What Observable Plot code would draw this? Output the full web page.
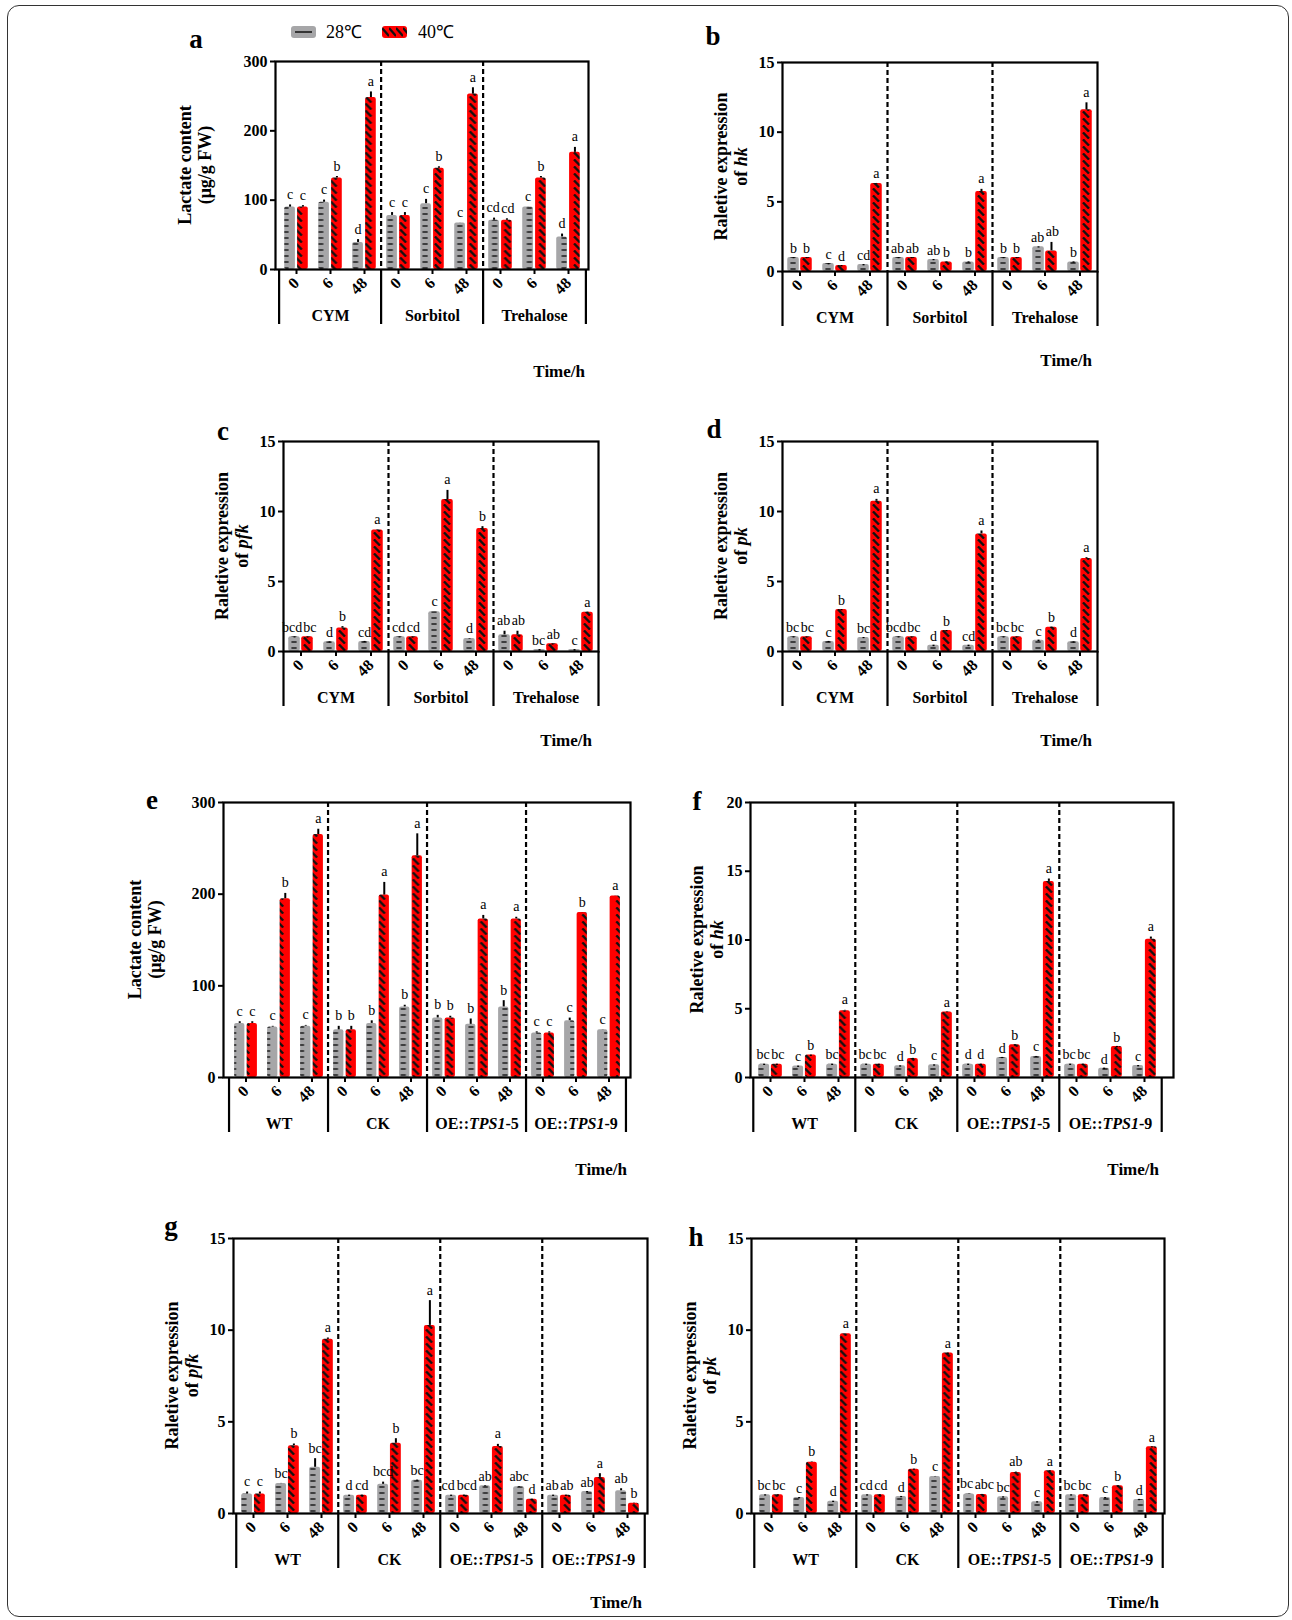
<!DOCTYPE html>
<html>
<head>
<meta charset="utf-8">
<script src="https://cdn.jsdelivr.net/npm/d3@7"></script>
<script src="https://cdn.jsdelivr.net/npm/@observablehq/plot@0.6"></script>
<style>
  body { margin: 0; background: #fff; }
  #page { position: relative; width: 1292px; height: 1620px; background: #fff; overflow: hidden;
          font-family: "Liberation Serif", "Times New Roman", serif; }
  #border { position: absolute; left: 7px; top: 5px; width: 1282px; height: 1612px;
            border: 1.3px solid #333; border-radius: 12px; box-sizing: border-box; }
</style>
</head>
<body>
<div id="page"><div id="border"></div></div>
<script>
// ---------------- DATA ----------------
const timePoints = ["0", "6", "48"];
const mediaGroups = ["CYM", "Sorbitol", "Trehalose"];
const lineGroups = ["WT", "CK", "OE::TPS1-5", "OE::TPS1-9"];
const seriesNames = ["28℃", "40℃"];

// a: Lactate content, media
const aGrey    = [90, 97, 39,   78, 95, 67,   71, 90, 47];
const aGreyErr = [6, 6, 7,      7, 9, 3,      6, 3, 7];
const aRed     = [90, 132, 248, 78, 146, 253, 71, 132, 169];
const aRedErr  = [5, 5, 11,     7, 5, 12,     5, 5, 10];
const aGreyLet = ["c", "c", "d", "c", "c", "c", "cd", "c", "d"];
const aRedLet  = ["c", "b", "a", "c", "b", "a", "cd", "b", "a"];

// b: hk, media
const bGrey    = [1.0, 0.57, 0.5,  1.0, 0.86, 0.69, 1.0, 1.77, 0.69];
const bGreyErr = [0.06, 0.05, 0.05, 0.06, 0.06, 0.05, 0.06, 0.06, 0.05];
const bRed     = [1.0, 0.43, 6.32, 1.0, 0.69, 5.74, 1.0, 1.48, 11.6];
const bRedErr  = [0.06, 0.05, 0.1, 0.06, 0.06, 0.3, 0.06, 0.75, 0.65];
const bGreyLet = ["b", "c", "cd", "ab", "ab", "b", "b", "ab", "b"];
const bRedLet  = ["b", "d", "a", "ab", "b", "a", "b", "ab", "a"];

// c: pfk, media
const cGrey    = [1.05, 0.69, 0.72, 1.05, 2.84, 0.93, 1.19, 0.14, 0.14];
const cGreyErr = [0.06, 0.05, 0.05, 0.06, 0.15, 0.1, 0.4, 0.03, 0.03];
const cRed     = [1.05, 1.67, 8.68, 1.05, 10.85, 8.78, 1.19, 0.55, 2.81];
const cRedErr  = [0.05, 0.25, 0.12, 0.05, 0.8, 0.28, 0.4, 0.05, 0.1];
const cGreyLet = ["bcd", "d", "cd", "cd", "c", "d", "ab", "bc", "c"];
const cRedLet  = ["bc", "b", "a", "cd", "a", "b", "ab", "ab", "a"];

// d: pk, media
const dGrey    = [1.05, 0.72, 1.0, 1.05, 0.45, 0.45, 1.05, 0.81, 0.69];
const dGreyErr = [0.06, 0.05, 0.06, 0.06, 0.04, 0.04, 0.06, 0.04, 0.05];
const dRed     = [1.05, 3.0, 10.73, 1.05, 1.5, 8.4, 1.05, 1.74, 6.65];
const dRedErr  = [0.05, 0.05, 0.28, 0.05, 0.05, 0.35, 0.05, 0.05, 0.2];
const dGreyLet = ["bc", "c", "bc", "bcd", "d", "cd", "bc", "c", "d"];
const dRedLet  = ["bc", "b", "a", "bc", "b", "a", "bc", "b", "a"];

// e: Lactate content, lines
const eGrey    = [59, 55, 56,   52, 59, 77,   65, 58, 77,   48.5, 62, 52];
const eGreyErr = [4, 3, 3,      6, 5, 4,      5, 8, 9,      3.5, 5, 2];
const eRed     = [59, 195, 265, 52, 199, 242, 65, 173, 173, 48.5, 180, 198];
const eRedErr  = [4, 8, 8,      6, 16, 26,    4, 6, 4,      3.5, 2, 2];
const eGreyLet = ["c", "c", "c", "b", "b", "b", "b", "b", "b", "c", "c", "c"];
const eRedLet  = ["c", "b", "a", "b", "a", "a", "b", "a", "a", "c", "b", "a"];

// f: hk, lines
const fGrey    = [0.97, 0.83, 0.97, 0.97, 0.85, 0.92, 0.97, 1.46, 1.53, 0.97, 0.68, 0.87];
const fGreyErr = [0.05, 0.05, 0.05, 0.05, 0.05, 0.05, 0.05, 0.06, 0.08, 0.05, 0.04, 0.05];
const fRed     = [0.97, 1.63, 4.86, 0.97, 1.39, 4.76, 0.97, 2.38, 14.26, 0.97, 2.26, 10.06];
const fRedErr  = [0.05, 0.05, 0.17, 0.05, 0.05, 0.1, 0.05, 0.05, 0.32, 0.05, 0.05, 0.3];
const fGreyLet = ["bc", "c", "bc", "bc", "d", "c", "d", "d", "c", "bc", "d", "c"];
const fRedLet  = ["bc", "b", "a", "bc", "b", "a", "d", "b", "a", "bc", "b", "a"];

// g: pfk, lines
const gGrey    = [1.06, 1.64, 2.52, 1.0, 1.59, 1.82, 1.0, 1.51, 1.46, 1.0, 1.2, 1.24];
const gGreyErr = [0.22, 0.1, 0.58, 0.04, 0.23, 0.05, 0.04, 0.06, 0.07, 0.04, 0.04, 0.22];
const gRed     = [1.06, 3.7, 9.5, 1.0, 3.83, 10.26, 1.0, 3.65, 0.78, 1.0, 1.97, 0.56];
const gRedErr  = [0.22, 0.2, 0.18, 0.04, 0.36, 1.46, 0.04, 0.23, 0.04, 0.04, 0.31, 0.08];
const gGreyLet = ["c", "bc", "bc", "d", "bcd", "bc", "cd", "ab", "abc", "ab", "ab", "ab"];
const gRedLet  = ["c", "b", "a", "cd", "b", "a", "bcd", "a", "d", "ab", "a", "b"];

// h: pk, lines
const hGrey    = [1.02, 0.87, 0.67, 1.02, 0.93, 2.02, 1.06, 0.91, 0.64, 1.02, 0.87, 0.77];
const hGreyErr = [0.04, 0.04, 0.04, 0.04, 0.04, 0.09, 0.09, 0.04, 0.04, 0.04, 0.04, 0.04];
const hRed     = [1.02, 2.79, 9.8, 1.02, 2.42, 8.75, 1.04, 2.24, 2.33, 1.02, 1.51, 3.64];
const hRedErr  = [0.04, 0.13, 0.11, 0.04, 0.05, 0.04, 0.09, 0.13, 0.05, 0.04, 0.04, 0.05];
const hGreyLet = ["bc", "c", "d", "cd", "d", "c", "bc", "bc", "c", "bc", "c", "d"];
const hRedLet  = ["bc", "b", "a", "cd", "b", "a", "abc", "ab", "a", "bc", "b", "a"];

const ticks300 = [0, 100, 200, 300];
const ticks15 = [0, 5, 10, 15];
const ticks20 = [0, 5, 10, 15, 20];

// ---------------- STYLE / LAYOUT ----------------
const FONT = '"Liberation Serif", "Times New Roman", serif';
const GREY = "#a6a6a8";
const RED = "#ff0000";
const LETTER_SIZE = 14;

const panels = [
  {id: "a", groups: mediaGroups, yMax: 300, yTicks: ticks300, grey: aGrey, greyErr: aGreyErr, red: aRed, redErr: aRedErr, greyLet: aGreyLet, redLet: aRedLet,
   title: ["Lactate content", "(μg/g FW)"], gene: null,
   L: 275, R: 588, T: 61, B: 269, timeX: 585, timeY: 377, letX: 196, letY: 48, titleX: 195},
  {id: "b", groups: mediaGroups, yMax: 15, yTicks: ticks15, grey: bGrey, greyErr: bGreyErr, red: bRed, redErr: bRedErr, greyLet: bGreyLet, redLet: bRedLet,
   gene: "hk", L: 782, R: 1097, T: 62, B: 271, timeX: 1092, timeY: 366, letX: 713, letY: 45, titleX: 731},
  {id: "c", groups: mediaGroups, yMax: 15, yTicks: ticks15, grey: cGrey, greyErr: cGreyErr, red: cRed, redErr: cRedErr, greyLet: cGreyLet, redLet: cRedLet,
   gene: "pfk", L: 283, R: 598, T: 441, B: 651, timeX: 592, timeY: 746, letX: 223, letY: 440, titleX: 232},
  {id: "d", groups: mediaGroups, yMax: 15, yTicks: ticks15, grey: dGrey, greyErr: dGreyErr, red: dRed, redErr: dRedErr, greyLet: dGreyLet, redLet: dRedLet,
   gene: "pk", L: 782, R: 1097, T: 441, B: 651, timeX: 1092, timeY: 746, letX: 714, letY: 438, titleX: 731},
  {id: "e", groups: lineGroups, yMax: 300, yTicks: ticks300, grey: eGrey, greyErr: eGreyErr, red: eRed, redErr: eRedErr, greyLet: eGreyLet, redLet: eRedLet,
   title: ["Lactate content", "(μg/g FW)"], gene: null,
   L: 223, R: 630, T: 802, B: 1077, timeX: 627, timeY: 1175, letX: 152, letY: 809, titleX: 145},
  {id: "f", groups: lineGroups, yMax: 20, yTicks: ticks20, grey: fGrey, greyErr: fGreyErr, red: fRed, redErr: fRedErr, greyLet: fGreyLet, redLet: fRedLet,
   gene: "hk", L: 750, R: 1173, xEnd: 1163, T: 802, B: 1077, timeX: 1159, timeY: 1175, letX: 697, letY: 810, titleX: 707},
  {id: "g", groups: lineGroups, yMax: 15, yTicks: ticks15, grey: gGrey, greyErr: gGreyErr, red: gRed, redErr: gRedErr, greyLet: gGreyLet, redLet: gRedLet,
   gene: "pfk", L: 233, R: 647, T: 1238, B: 1513, timeX: 642, timeY: 1608, letX: 171, letY: 1235, titleX: 182},
  {id: "h", groups: lineGroups, yMax: 15, yTicks: ticks15, grey: hGrey, greyErr: hGreyErr, red: hRed, redErr: hRedErr, greyLet: hGreyLet, redLet: hRedLet,
   gene: "pk", L: 751, R: 1164, T: 1238, B: 1513, timeX: 1159, timeY: 1608, letX: 696, letY: 1246, titleX: 700}
];

const page = d3.select("#page");

// text measuring for letter collision avoidance
const mctx = document.createElement("canvas").getContext("2d");
mctx.font = `${LETTER_SIZE}px "Liberation Serif"`;
const textWidth = s => mctx.measureText(s).width;

// hidden defs for patterns
const defsSvg = page.append("svg").attr("width", 0).attr("height", 0)
  .style("position", "absolute").style("left", 0).style("top", 0);
const defs = defsSvg.append("defs");

function greyPattern(id, x, y, w, cx) {
  const p = defs.append("pattern").attr("id", id).attr("patternUnits", "userSpaceOnUse")
    .attr("x", x).attr("y", y).attr("width", w).attr("height", 6);
  p.append("rect").attr("width", w).attr("height", 6).attr("fill", GREY);
  p.append("line").attr("x1", cx - 2.6).attr("x2", cx + 2.6).attr("y1", 3).attr("y2", 3)
    .attr("stroke", "#111").attr("stroke-width", 1.4);
}
function redPattern(id, x, y, w, cx) {
  const p = defs.append("pattern").attr("id", id).attr("patternUnits", "userSpaceOnUse")
    .attr("x", x).attr("y", y).attr("width", w).attr("height", 7);
  p.append("rect").attr("width", w).attr("height", 7).attr("fill", RED);
  p.append("line").attr("x1", cx - 3).attr("y1", 0.4).attr("x2", cx + 3).attr("y2", 6.6)
    .attr("stroke", "#111").attr("stroke-width", 2.3);
}

function italicizeTPS(svg) {
  d3.select(svg).selectAll("text").each(function () {
    const t = this.textContent;
    if (this.childElementCount === 0 && t.includes("TPS1")) {
      const [pre, post] = t.split("TPS1");
      this.textContent = "";
      const s = d3.select(this);
      s.append("tspan").text(pre);
      s.append("tspan").attr("font-style", "italic").text("TPS1");
      s.append("tspan").text(post);
    }
  });
}

for (const cfg of panels) {
  const {id, L, R, T, B} = cfg;
  const xEnd = cfg.xEnd ?? R;
  const mL = 70, mR = 12, mT = 30, mB = 80;
  const W = R - L + mL + mR, H = B - T + mT + mB;
  const plotH = B - T;
  const slots = cfg.groups.flatMap(g => timePoints.map(t => `${g}|${t}`));
  const bw = (xEnd - L) / slots.length;
  const gA = 0.15, gB = 0.48, rA = 0.52, rB = 0.85;
  const off = (0.5 - (gA + gB) / 2) * bw;
  const pxPerUnit = plotH / cfg.yMax;

  const rows = slots.map((slot, i) => {
    const greyTop = cfg.grey[i] + cfg.greyErr[i];
    const redTop = cfg.red[i] + cfg.redErr[i];
    const gl = cfg.greyLet[i], rl = cfg.redLet[i];
    // shift labels sideways only where the two letter labels would collide
    let shift = 0;
    if (Math.abs(greyTop - redTop) * pxPerUnit < 13) {
      const overlap = textWidth(gl) / 2 + textWidth(rl) / 2 + 1.2 - 2 * off;
      if (overlap > 0) shift = Math.ceil(overlap) / 2;
    }
    return {slot, grey: cfg.grey[i], greyTop, gl, red: cfg.red[i], redTop, rl, shift};
  });

  greyPattern(`pg-${id}`, mL, mT, bw, ((gA + gB) / 2) * bw);
  redPattern(`pr-${id}`, mL, mT, bw, ((rA + rB) / 2) * bw);
  const lastGroup = cfg.groups[cfg.groups.length - 1];

  const letterMarks = [];
  for (const [s, rs] of d3.groups(rows, d => d.shift)) {
    letterMarks.push(
      Plot.text(rs, {x: "slot", y: "greyTop", text: "gl", dx: -off - s, dy: -4, lineAnchor: "bottom", fontWeight: "normal", fontSize: LETTER_SIZE, fill: "#000"}),
      Plot.text(rs, {x: "slot", y: "redTop", text: "rl", dx: off + s, dy: -4, lineAnchor: "bottom", fontWeight: "normal", fontSize: LETTER_SIZE, fill: "#000"})
    );
  }

  const chart = Plot.plot({
    width: W, height: H,
    marginLeft: mL, marginRight: mR, marginTop: mT, marginBottom: mB,
    style: {fontFamily: FONT, fontWeight: "bold", background: "transparent", overflow: "visible", color: "#000"},
    x: {type: "band", domain: slots, range: [mL, mL + (xEnd - L)], padding: 0, axis: null},
    y: {domain: [0, cfg.yMax], range: [H - mB, mT], axis: null},
    marks: [
      Plot.barY(rows, {x: "slot", y: "grey", fill: `url(#pg-${id})`, insetLeft: gA * bw, insetRight: (1 - gB) * bw, rx: 2}),
      Plot.barY(rows, {x: "slot", y: "red", fill: `url(#pr-${id})`, insetLeft: rA * bw, insetRight: (1 - rB) * bw, rx: 2}),
      Plot.ruleX(rows, {x: "slot", y1: "grey", y2: "greyTop", dx: -off, stroke: "#000", strokeWidth: 2, insetBottom: -2}),
      Plot.ruleX(rows, {x: "slot", y1: "red", y2: "redTop", dx: off, stroke: "#000", strokeWidth: 2, insetBottom: -2}),
      ...letterMarks,
      // dashed separators between groups
      Plot.ruleX(cfg.groups.slice(1), {x: g => `${g}|0`, dx: -bw / 2, stroke: "#000", strokeWidth: 2.2, strokeDasharray: "5,3"}),
      // bracket lines below the axis
      Plot.ruleX(cfg.groups, {x: g => `${g}|0`, dx: -bw / 2, stroke: "#000", strokeWidth: 2.2, insetTop: plotH, insetBottom: -55}),
      Plot.ruleX([lastGroup], {x: g => `${g}|48`, dx: bw / 2, stroke: "#000", strokeWidth: 2.2, insetTop: plotH, insetBottom: -55}),
      Plot.axisX({tickFormat: s => s.split("|")[1], tickRotate: -45, tickSize: 5, tickPadding: 6, fontSize: 16, label: null, strokeWidth: 2}),
      Plot.axisY(cfg.yTicks, {tickSize: 5, tickPadding: 3, fontSize: 16, label: null, strokeWidth: 2}),
      Plot.frame({stroke: "#000", strokeWidth: 2.2}),
      Plot.text(cfg.groups, {x: g => `${g}|6`, text: g => g, frameAnchor: "bottom", dy: 46, lineAnchor: "middle", fontSize: 16, fill: "#000"})
    ]
  });
  italicizeTPS(chart);
  chart.style.position = "absolute";
  chart.style.left = (L - mL) + "px";
  chart.style.top = (T - mT) + "px";
  page.node().appendChild(chart);
}

// ---------------- OVERLAY TEXT (titles, labels, legend) ----------------
const ov = page.append("svg").attr("width", 1292).attr("height", 1620)
  .style("position", "absolute").style("left", 0).style("top", 0)
  .style("font-family", FONT).style("pointer-events", "none");

for (const cfg of panels) {
  ov.append("text").attr("x", cfg.letX).attr("y", cfg.letY).attr("text-anchor", "middle")
    .attr("font-size", 27).attr("font-weight", "bold").text(cfg.id);
  ov.append("text").attr("x", cfg.timeX).attr("y", cfg.timeY).attr("text-anchor", "end")
    .attr("font-size", 17).attr("font-weight", "bold").text("Time/h");
  const cy = (cfg.T + cfg.B) / 2;
  const t = ov.append("text").attr("transform", `translate(${cfg.titleX},${cy}) rotate(-90)`)
    .attr("text-anchor", "middle").attr("font-size", 18).attr("font-weight", "bold");
  if (cfg.gene) {
    t.append("tspan").attr("x", 0).attr("y", -4).text("Raletive expression");
    const l2 = t.append("tspan").attr("x", 0).attr("y", 16);
    l2.append("tspan").text("of ");
    l2.append("tspan").attr("font-style", "italic").text(cfg.gene);
  } else {
    t.append("tspan").attr("x", 0).attr("y", -4).text(cfg.title[0]);
    t.append("tspan").attr("x", 0).attr("y", 16).text(cfg.title[1]);
  }
}

// legend
const lg = defs.append("pattern").attr("id", "lg-red").attr("patternUnits", "userSpaceOnUse")
  .attr("x", 382).attr("y", 26).attr("width", 7).attr("height", 12);
lg.append("rect").attr("width", 7).attr("height", 12).attr("fill", RED);
lg.append("line").attr("x1", 0).attr("y1", 2).attr("x2", 7).attr("y2", 10).attr("stroke", "#111").attr("stroke-width", 2.2);

ov.append("rect").attr("x", 291).attr("y", 26).attr("width", 25).attr("height", 12).attr("rx", 3).attr("fill", GREY);
ov.append("line").attr("x1", 295).attr("x2", 312).attr("y1", 32).attr("y2", 32).attr("stroke", "#111").attr("stroke-width", 1.5);
ov.append("text").attr("x", 326).attr("y", 38).attr("font-size", 18).text(seriesNames[0]);
ov.append("rect").attr("x", 382).attr("y", 26).attr("width", 25).attr("height", 12).attr("rx", 3).attr("fill", "url(#lg-red)");
ov.append("text").attr("x", 418).attr("y", 38).attr("font-size", 18).text(seriesNames[1]);
</script>
</body>
</html>
